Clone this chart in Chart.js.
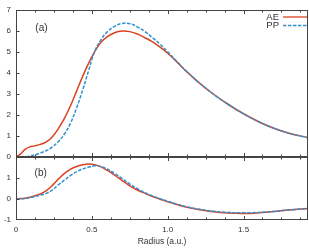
<!DOCTYPE html>
<html>
<head>
<meta charset="utf-8">
<script src="https://cdn.jsdelivr.net/npm/chart.js@4/dist/chart.umd.min.js"></script>
<style>
html, body { margin: 0; padding: 0; background: #fff; }
#wrap { width: 309px; height: 249px; }
</style>
</head>
<body>
<div id="wrap"><canvas id="chart" width="309" height="249"></canvas></div>
<script>
// radial grid (a.u.) shared by both panels
const radius = [0, 0.03, 0.06, 0.09, 0.12, 0.16, 0.2, 0.24, 0.28, 0.32, 0.36, 0.4, 0.44, 0.48,
    0.52, 0.56, 0.6, 0.65, 0.7, 0.75, 0.8, 0.85, 0.9, 0.95, 1.0, 1.06, 1.12, 1.2, 1.3, 1.4,
    1.5, 1.6, 1.7, 1.8, 1.925];

// panel (a)
const aeUpper = [0, 0.15, 0.36, 0.48, 0.53, 0.60, 0.72, 0.97, 1.36, 1.85, 2.45, 3.15, 3.85, 4.48,
    5.03, 5.46, 5.72, 5.92, 6.0, 5.97, 5.86, 5.68, 5.48, 5.23, 4.94, 4.53, 4.10, 3.58, 3.0, 2.50,
    2.06, 1.68, 1.37, 1.13, 0.92];
const ppUpper = [0, 0.0, 0.01, 0.04, 0.10, 0.19, 0.30, 0.48, 0.74, 1.10, 1.62, 2.35, 3.2, 4.15,
    5.05, 5.58, 5.95, 6.22, 6.36, 6.35, 6.2, 5.97, 5.68, 5.37, 5.01, 4.56, 4.11, 3.58, 3.0, 2.50,
    2.06, 1.68, 1.37, 1.13, 0.92];

// panel (b)
const aeLower = [0, 0.02, 0.04, 0.08, 0.14, 0.24, 0.40, 0.65, 0.95, 1.22, 1.42, 1.55, 1.63, 1.67,
    1.63, 1.53, 1.37, 1.14, 0.88, 0.63, 0.43, 0.27, 0.12, -0.01, -0.13, -0.26, -0.38, -0.50, -0.61, -0.67,
    -0.69, -0.66, -0.60, -0.52, -0.45];
const ppLower = [0, 0.01, 0.03, 0.06, 0.11, 0.18, 0.27, 0.43, 0.68, 0.90, 1.12, 1.30, 1.43, 1.52,
    1.58, 1.55, 1.43, 1.22, 0.97, 0.72, 0.49, 0.30, 0.14, 0.01, -0.11, -0.24, -0.36, -0.48, -0.58, -0.64,
    -0.66, -0.64, -0.59, -0.52, -0.45];

const panelLabels = ['(a)', '(b)'];
const seriesNames = ['AE', 'PP'];
const xMinorStep = 0.125;

const RED = '#da4322';
const BLUE = '#3390cf';
const TEXT = '#333';
const FRAME = '#444';
const FONT = '"Liberation Sans", Arial, sans-serif';

const toPoints = (ys) => radius.map((r, i) => ({ x: r, y: ys[i] }));

function lineSet(label, ys, axis, color, dashed, order) {
    return {
        label: label,
        data: toPoints(ys),
        yAxisID: axis,
        borderColor: color,
        borderWidth: 1.5,
        borderDash: dashed ? [3.5, 1.5] : [],
        pointRadius: 0,
        fill: false,
        tension: 0.4,
        order: order
    };
}

const panelFrame = {
    id: 'panelFrame',
    afterDatasetsDraw(chart) {
        const ctx = chart.ctx;
        const xs = chart.scales.x;
        const area = chart.chartArea;
        ctx.save();
        ctx.strokeStyle = FRAME;
        ctx.lineWidth = 1;

        ['yA', 'yB'].forEach(id => {
            const ys = chart.scales[id];
            const top = Math.round(ys.top) + 0.5;
            const bottom = Math.round(ys.bottom) - 0.5;
            ctx.strokeRect(area.left + 0.5, top, area.right - area.left - 1, bottom - top);

            // inward x tics, top and bottom of each panel
            const n = Math.floor(xs.max / xMinorStep + 1e-9);
            ctx.beginPath();
            for (let i = 1; i <= n; i++) {
                const v = i * xMinorStep;
                const px = Math.round(xs.getPixelForValue(v)) + 0.5;
                const len = (i % 4 === 0) ? 3.5 : 2;
                ctx.moveTo(px, bottom);
                ctx.lineTo(px, bottom - len);
                ctx.moveTo(px, top);
                ctx.lineTo(px, top + len);
            }
            // inward y tics
            for (let v = Math.ceil(ys.min) + 1; v < ys.max; v++) {
                const py = Math.round(ys.getPixelForValue(v)) + 0.5;
                ctx.moveTo(area.left, py);
                ctx.lineTo(area.left + 3.5, py);
            }
            ctx.stroke();
        });

        // panel labels
        ctx.fillStyle = TEXT;
        ctx.font = '10px ' + FONT;
        ctx.textAlign = 'center';
        ctx.textBaseline = 'middle';
        ctx.fillText(panelLabels[0], xs.getPixelForValue(0.168), chart.scales.yA.getPixelForValue(6.15));
        ctx.fillText(panelLabels[1], xs.getPixelForValue(0.163), chart.scales.yB.getPixelForValue(1.22));

        // key
        ctx.font = '9.5px ' + FONT;
        ctx.textAlign = 'right';
        const keyColors = [RED, BLUE];
        seriesNames.forEach((name, i) => {
            const y = area.top + 7 + i * 8.5;
            ctx.fillText(name, area.right - 29, y);
            ctx.strokeStyle = keyColors[i];
            ctx.lineWidth = 1.3;
            ctx.setLineDash(i === 1 ? [3.5, 1.5] : []);
            ctx.beginPath();
            ctx.moveTo(area.right - 25, y);
            ctx.lineTo(area.right - 1, y);
            ctx.stroke();
        });
        ctx.restore();
    }
};

const tickFont = { family: FONT, size: 8 };
const noGrid = { display: false, drawTicks: false };

new Chart(document.getElementById('chart'), {
    type: 'line',
    data: {
        datasets: [
            lineSet(seriesNames[0], aeUpper, 'yA', RED, false, 2),
            lineSet(seriesNames[1], ppUpper, 'yA', BLUE, true, 1),
            lineSet(seriesNames[0], aeLower, 'yB', RED, false, 2),
            lineSet(seriesNames[1], ppLower, 'yB', BLUE, true, 1)
        ]
    },
    options: {
        responsive: false,
        animation: false,
        layout: { padding: { top: 10, right: 1, left: 0, bottom: 0 } },
        plugins: {
            legend: { display: false },
            tooltip: { enabled: false }
        },
        scales: {
            x: {
                type: 'linear',
                min: 0,
                max: 1.925,
                grid: noGrid,
                border: { display: false },
                afterFit: s => { s.height = 29; },
                ticks: {
                    stepSize: 0.5,
                    includeBounds: false,
                    padding: 5,
                    color: TEXT,
                    font: tickFont,
                    maxRotation: 0
                },
                title: {
                    display: true,
                    text: 'Radius (a.u.)',
                    color: TEXT,
                    font: { family: FONT, size: 8.5 },
                    padding: { top: 0, bottom: 2 }
                }
            },
            yB: {
                type: 'linear',
                position: 'left',
                stack: 'panels',
                stackWeight: 3,
                min: -1,
                max: 2,
                grid: noGrid,
                border: { display: false },
                afterFit: s => { s.width = 16; },
                ticks: {
                    stepSize: 1,
                    autoSkip: false,
                    padding: 5,
                    color: TEXT,
                    font: tickFont,
                    callback: v => (v === 2 ? '' : v)
                }
            },
            yA: {
                type: 'linear',
                position: 'left',
                stack: 'panels',
                stackWeight: 7,
                min: 0,
                max: 7,
                grid: noGrid,
                border: { display: false },
                afterFit: s => { s.width = 16; },
                ticks: {
                    stepSize: 1,
                    autoSkip: false,
                    padding: 5,
                    color: TEXT,
                    font: tickFont
                }
            }
        }
    },
    plugins: [panelFrame]
});
</script>
</body>
</html>
